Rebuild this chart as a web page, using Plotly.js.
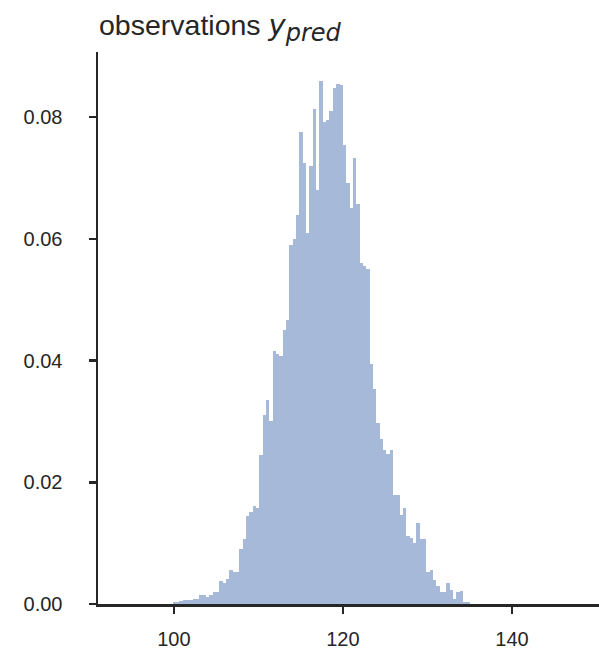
<!DOCTYPE html>
<html>
<head>
<meta charset="utf-8">
<script src="https://cdn.plot.ly/plotly-3.0.1.min.js"></script>
<style>
  html, body { margin: 0; padding: 0; background: #ffffff; }
  #chart { width: 599px; height: 656px; }
</style>
</head>
<body>
<div id="chart"></div>
<script>
// Histogram of predicted observations (density), equal-width bins
const binStart = 99.86;
const binWidth = 0.3948;
const density = [
  0.0004, 0.0004, 0.0005, 0.0006, 0.0007, 0.0007, 0.0009, 0.0009, 0.0015, 0.0015,
  0.0012, 0.0015, 0.0020, 0.0020, 0.0037, 0.0034, 0.0041, 0.0056, 0.0053, 0.0053,
  0.0091, 0.0106, 0.0144, 0.0151, 0.0161, 0.0157, 0.0245, 0.0311, 0.0335, 0.0300,
  0.0415, 0.0410, 0.0408, 0.0450, 0.0466, 0.0590, 0.0600, 0.0640, 0.0775, 0.0725,
  0.0610, 0.0720, 0.0814, 0.0680, 0.0859, 0.0792, 0.0796, 0.0810, 0.0848, 0.0855,
  0.0852, 0.0755, 0.0691, 0.0650, 0.0733, 0.0657, 0.0560, 0.0555, 0.0550, 0.0395,
  0.0354, 0.0297, 0.0271, 0.0253, 0.0247, 0.0253, 0.0179, 0.0179, 0.0146, 0.0157,
  0.0112, 0.0108, 0.0100, 0.0133, 0.0106, 0.0106, 0.0053, 0.0056, 0.0039, 0.0030,
  0.0020, 0.0020, 0.0034, 0.0023, 0.0009, 0.0020, 0.0022, 0.0004, 0.0003
];
const xTicks = [100, 120, 140];
const yTicks = [0.00, 0.02, 0.04, 0.06, 0.08];
const titleWord = 'observations';
const titleVar = 'y';
const titleSub = 'pred';

const binCenters = density.map((_, i) => binStart + (i + 0.5) * binWidth);

const ink = '#262626';
const fontFam = '"Liberation Sans", Arial, Helvetica, sans-serif';
const mathStyle = 'font-family:DejaVu Sans;font-style:italic;';
const titleText = titleWord + ' ' +
  '<span style="' + mathStyle + 'font-size:29px">' + titleVar + '</span>' +
  '<sub><span style="' + mathStyle + 'font-size:24px">' + titleSub + '</span></sub>';

const trace = {
  type: 'bar',
  x: binCenters,
  y: density,
  width: density.map(() => binWidth),
  marker: { color: 'rgb(166,185,216)', line: { width: 0 } },
  hoverinfo: 'x+y'
};

const layout = {
  width: 599,
  height: 656,
  paper_bgcolor: '#ffffff',
  plot_bgcolor: '#ffffff',
  margin: { l: 98, r: 0, t: 52, b: 52, pad: 0 },
  showlegend: false,
  bargap: 0,
  title: {
    text: titleText,
    font: { family: fontFam, size: 28.5, color: ink },
    x: 99 / 599, xref: 'container', xanchor: 'left',
    y: 1 - 25 / 656, yref: 'container', yanchor: 'middle'
  },
  xaxis: {
    range: [91.03, 150.3],
    tickvals: xTicks,
    ticktext: xTicks.map(String),
    ticks: 'outside', ticklen: 7, tickwidth: 2.5, tickcolor: ink,
    showline: true, linecolor: ink, linewidth: 2.5,
    showgrid: false, zeroline: false,
    tickfont: { family: fontFam, size: 20, color: ink },
    ticklabelstandoff: 8
  },
  yaxis: {
    range: [0, 0.0907],
    tickvals: yTicks,
    ticktext: yTicks.map(v => v.toFixed(2)),
    ticks: 'outside', ticklen: 7, tickwidth: 2.5, tickcolor: ink,
    showline: true, linecolor: ink, linewidth: 2.5,
    showgrid: false, zeroline: false,
    tickfont: { family: fontFam, size: 20, color: ink },
    ticklabelstandoff: 22
  }
};

Plotly.newPlot('chart', [trace], layout, { displayModeBar: false, staticPlot: true });
</script>
</body>
</html>
